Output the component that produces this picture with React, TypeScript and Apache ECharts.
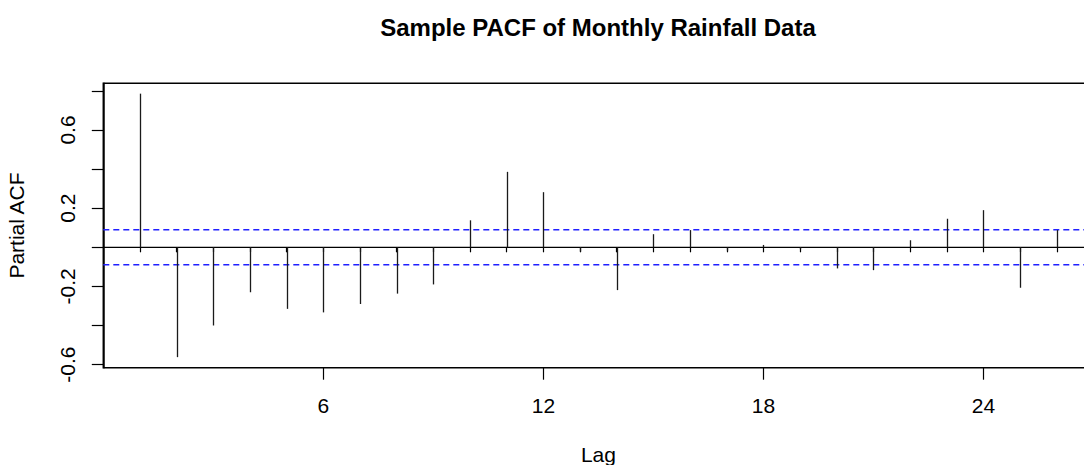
import React, { useEffect, useRef } from "react";
import * as echarts from "echarts";

const chartTitle = "Sample PACF of Monthly Rainfall Data";
const xName = "Lag";
const yName = "Partial ACF";

const lags = [1, 2, 3, 4, 5, 6, 7, 8, 9, 10, 11, 12, 13, 14, 15, 16, 17, 18, 19, 20, 21, 22, 23, 24, 25, 26];
const pacf = [
  0.786, -0.562, -0.4, -0.23, -0.315, -0.333, -0.29, -0.237, -0.19, 0.138,
  0.386, 0.282, -0.022, -0.219, 0.067, 0.088, -0.017, 0.012, -0.01, -0.108,
  -0.117, 0.036, 0.146, 0.19, -0.207, 0.088,
];
const confLimit = 0.0898;

const yTickValues = [-0.6, -0.4, -0.2, 0, 0.2, 0.4, 0.6, 0.8];
const yLabelValues = [-0.6, -0.2, 0.2, 0.6];
const xMajorTicks = [6, 12, 18, 24];

const X_MIN = 0;
const X_MAX = 27;
const Y_MIN = -0.616;
const Y_MAX = 0.839;

export default function App() {
  const ref = useRef<HTMLDivElement>(null);

  useEffect(() => {
    if (!ref.current) return;
    const chart = echarts.init(ref.current, null, { renderer: "svg" });
    const font = "'Liberation Sans', Arial, sans-serif";
    const lineColor = "#000";
    const dashColor = "#2020ff";

    chart.setOption({
      animation: false,
      backgroundColor: "#fff",
      graphic: [
        {
          type: "text",
          x: 598,
          y: 27,
          style: {
            text: chartTitle,
            fontFamily: font,
            fontSize: 24,
            fontWeight: "bold",
            fill: "#000",
            align: "center",
            verticalAlign: "middle",
          },
        },
      ],
      grid: {
        left: 103.3,
        right: -9.5,
        top: 83.3,
        bottom: 97.3,
        outerBoundsMode: "none",
        containLabel: false,
        show: true,
        borderColor: lineColor,
        borderWidth: 1.5,
        backgroundColor: "transparent",
      },
      xAxis: [
        {
          type: "value",
          position: "bottom",
          min: X_MIN,
          max: X_MAX,
          axisLine: { show: false },
          splitLine: { show: false },
          axisTick: {
            show: true,
            customValues: lags,
            length: 5,
            lineStyle: { color: lineColor, width: 1.2 },
          },
          axisLabel: { show: false },
          name: xName,
          nameLocation: "middle",
          nameGap: 76,
          nameTextStyle: { fontFamily: font, fontSize: 21, color: "#000" },
        },
        {
          type: "value",
          position: "bottom",
          min: X_MIN,
          max: X_MAX,
          axisLine: { show: false },
          splitLine: { show: false },
          axisTick: {
            show: true,
            customValues: xMajorTicks,
            length: 12,
            lineStyle: { color: lineColor, width: 1.2 },
          },
          axisLabel: {
            show: true,
            customValues: xMajorTicks,
            margin: 27,
            fontFamily: font,
            fontSize: 21,
            color: "#000",
          },
        },
      ],
      yAxis: {
        type: "value",
        min: Y_MIN,
        max: Y_MAX,
        axisLine: { show: true, lineStyle: { color: lineColor, width: 1.5 } },
        splitLine: { show: false },
        axisTick: {
          show: true,
          customValues: yTickValues,
          length: 11.5,
          lineStyle: { color: lineColor, width: 1.2 },
        },
        axisLabel: {
          show: true,
          customValues: yLabelValues,
          rotate: 90,
          margin: 25,
          fontFamily: font,
          fontSize: 21,
          color: "#000",
          formatter: (v: number) => v.toFixed(1),
        },
        name: yName,
        nameLocation: "middle",
        nameRotate: 90,
        nameGap: 76,
        nameTextStyle: { fontFamily: font, fontSize: 21, color: "#000" },
      },
      series: [
        {
          type: "line",
          xAxisIndex: 0,
          data: [[X_MIN, 0], [X_MAX, 0]],
          showSymbol: false,
          symbol: "none",
          lineStyle: { color: lineColor, width: 1.3 },
          silent: true,
          z: 1,
        },
        {
          type: "line",
          xAxisIndex: 0,
          data: [[X_MIN, confLimit], [X_MAX, confLimit]],
          showSymbol: false,
          symbol: "none",
          lineStyle: { color: dashColor, width: 1.5, type: [6, 4] },
          silent: true,
          z: 2,
        },
        {
          type: "line",
          xAxisIndex: 0,
          data: [[X_MIN, -confLimit], [X_MAX, -confLimit]],
          showSymbol: false,
          symbol: "none",
          lineStyle: { color: dashColor, width: 1.5, type: [6, 4] },
          silent: true,
          z: 2,
        },
        {
          type: "custom",
          xAxisIndex: 0,
          yAxisIndex: 0,
          data: lags.map((l, i) => [l, pacf[i]]),
          renderItem: (_params: any, api: any) => {
            const p0 = api.coord([api.value(0), 0]);
            const p1 = api.coord([api.value(0), api.value(1)]);
            const x = Math.round(p0[0]) + 0.5;
            return {
              type: "line",
              shape: { x1: x, y1: p0[1], x2: x, y2: p1[1] },
              style: { stroke: "#1a1a1a", lineWidth: 1.3 },
            };
          },
          z: 3,
        },
      ],
    });

    return () => {
      chart.dispose();
    };
  }, []);

  return (
    <div
      ref={ref}
      style={{ position: "absolute", left: 0, top: 0, width: 1084, height: 465 }}
    />
  );
}
